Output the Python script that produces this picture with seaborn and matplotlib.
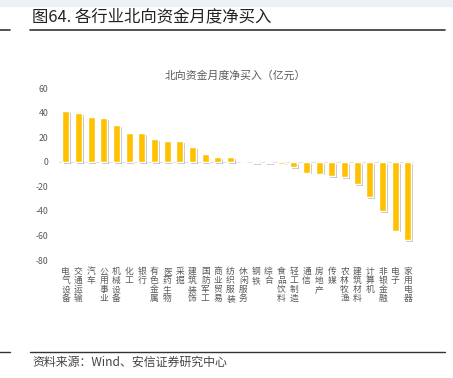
import matplotlib
matplotlib.use("Agg")
import matplotlib.pyplot as plt
import matplotlib.patheffects as pe
from matplotlib.lines import Line2D
from matplotlib.patches import Rectangle
import seaborn as sns
import pandas as pd

categories = ["电气设备", "交通运输", "汽车", "公用事业", "机械设备", "化工", "银行",
              "有色金属", "医药生物", "采掘", "建筑装饰", "国防军工", "商业贸易", "纺织服装",
              "休闲服务", "钢铁", "综合", "食品饮料", "轻工制造", "通信", "房地产", "传媒",
              "农林牧渔", "建筑材料", "计算机", "非银金融", "电子", "家用电器"]
values = [41.0, 39.5, 36.0, 35.5, 30.0, 23.5, 23.0, 18.5, 17.0, 17.0, 12.0, 6.5, 4.0, 4.0,
          -0.5, -0.8, -1.0, -1.5, -4.5, -8.8, -9.6, -11.8, -12.4, -18.0, -28.5, -40.5, -56.0, -64.0]
yticks = [60, 40, 20, 0, -20, -40, -60, -80]

title_text = "图64. 各行业北向资金月度净买入"
chart_title = "北向资金月度净买入（亿元）"
source_text = "资料来源：Wind、安信证券研究中心"

sns.set_theme(style="white")
plt.rcParams["font.family"] = ["Noto Sans CJK SC", "DejaVu Sans"]
plt.rcParams["axes.unicode_minus"] = False

W, H = 453, 378
fig = plt.figure(figsize=(W / 100, H / 100), dpi=100)

# top faint band
fig.patches.append(Rectangle((0, 1 - 6 / H), 1, 6 / H, transform=fig.transFigure,
                             color="#edf1f7", zorder=0))

ax = fig.add_axes([59.4 / W, 1 - 260 / H, (414.3 - 59.4) / W, (260 - 88) / H])

df = pd.DataFrame({"cat": categories, "val": values})
sns.barplot(data=df, x="cat", y="val", color="#FFC000", saturation=1, width=0.55, ax=ax)

for p in ax.patches:
    p.set_path_effects([pe.SimplePatchShadow(offset=(1.3, -1.3), shadow_rgbFace="#9a9a9a", alpha=0.6),
                        pe.Normal()])

ax.axhline(0, color="#e3e3e3", lw=0.8, zorder=0)
ax.set_ylim(-80, 60)
ax.set_xlim(-0.5, len(categories) - 0.5)
ax.set_yticks(yticks)
ax.set_yticklabels([str(v) for v in yticks])
ax.set_xticks(range(len(categories)))
ax.set_xticklabels(["\n".join(c) for c in categories], linespacing=1.0, va="top")
ax.tick_params(axis="y", length=0, labelsize=6.3, labelcolor="#595959", pad=8)
ax.tick_params(axis="x", length=0, labelsize=6.3, labelcolor="#595959", pad=5)
ax.set_xlabel("")
ax.set_ylabel("")
for s in ax.spines.values():
    s.set_visible(False)
ax.set_facecolor("none")

fig.text(235 / W, 1 - 75.5 / H, chart_title, ha="center", va="center",
         fontsize=7.8, color="#595959")

# header
fig.text(32 / W, 1 - 17 / H, title_text, ha="left", va="center", fontsize=11.8,
         color="#222222", fontweight="medium")
fig.add_artist(Line2D([30 / W, 445 / W], [1 - 30 / H, 1 - 30 / H], color="#333333", lw=1.2,
                      transform=fig.transFigure))
fig.add_artist(Line2D([0, 10 / W], [1 - 30 / H, 1 - 30 / H], color="#333333", lw=1.2,
                      transform=fig.transFigure))

# footer
fig.add_artist(Line2D([30 / W, 445 / W], [1 - 352 / H, 1 - 352 / H], color="#333333", lw=1.0,
                      transform=fig.transFigure))
fig.add_artist(Line2D([0, 10 / W], [1 - 352 / H, 1 - 352 / H], color="#333333", lw=1.0,
                      transform=fig.transFigure))
fig.text(32 / W, 1 - 362 / H, source_text, ha="left", va="center", fontsize=8.6,
         color="#444444", style="italic")

fig.savefig("out.png", dpi=100)
